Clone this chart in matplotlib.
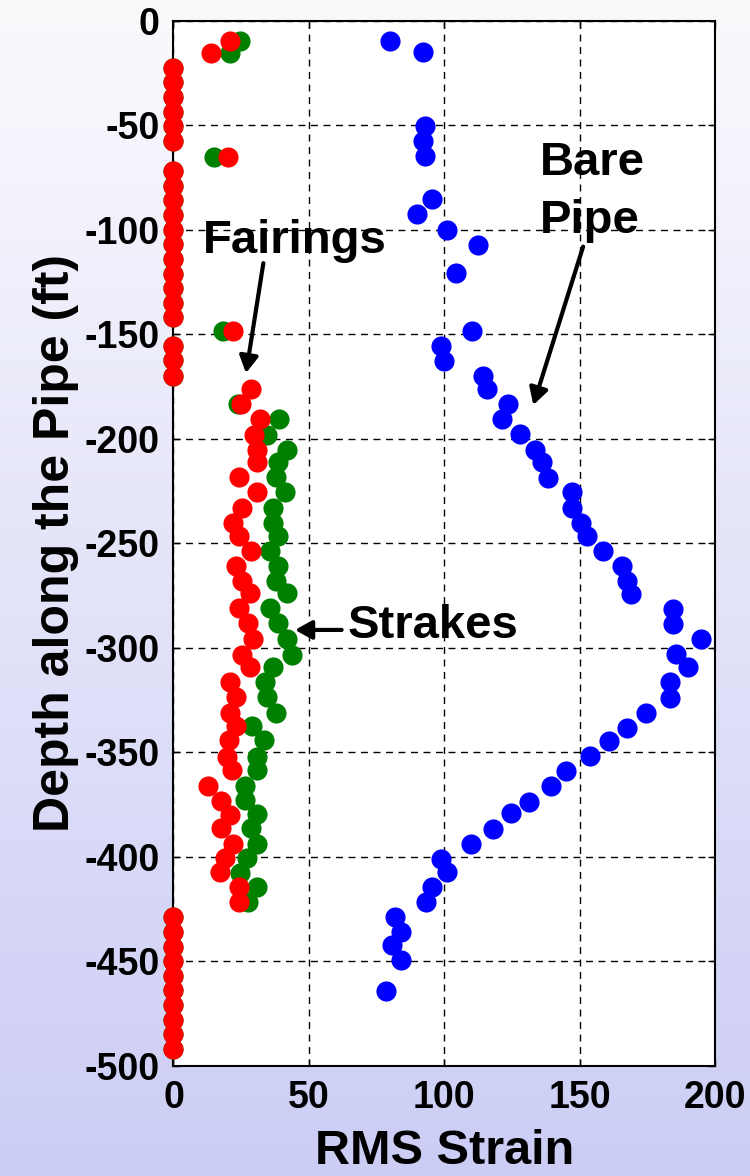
import numpy as np
import matplotlib.pyplot as plt

plt.rcParams['font.family'] = ['Liberation Sans', 'DejaVu Sans']
plt.rcParams['font.weight'] = 'bold'
plt.rcParams['axes.unicode_minus'] = False

# Bare pipe (blue)
bare_x = [80, 92, 93, 92, 93, 95.4, 89.8, 101, 112.3, 104.3, 110.1, 98.8, 99.9, 114.4, 115.7,
          123.7, 121.3, 128.1, 133.6, 136, 138.3, 147.3, 147.3, 150.6, 152.8, 158.5, 165.5, 167.6,
          168.9, 184.5, 184.5, 194.8, 185.6, 190.1, 183.4, 183.4, 174.4, 167.6, 160.7, 153.9, 145,
          139.4, 131.4, 124.7, 117.9, 110, 98.7, 100.9, 95.4, 93.1, 81.8, 84, 80.6, 84, 78.4]
bare_d = [-9.6, -15.1, -50.2, -57.6, -64.7, -85.5, -92.6, -100.1, -107.3, -120.6, -148.3, -155.6,
          -162.8, -170, -176, -183.4, -190.7, -197.9, -205.4, -211, -218.8, -225.6, -233, -240.2,
          -246.4, -253.6, -260.8, -268.1, -274.3, -281.5, -288.8, -296, -303, -309.1, -316.6, -323.9,
          -331.1, -338.6, -344.5, -351.7, -359, -366.2, -373.7, -379.2, -386.7, -394.1, -401.1,
          -407.5, -414.4, -421.8, -428.7, -436.2, -442.2, -449.4, -464.1]

# zero-strain depths shared by fairings and strakes
zero_d = [-22.5, -29.5, -36.5, -43.5, -50.5, -57.5, -72, -79, -86, -93, -100, -107, -114, -121,
          -128, -135, -142, -155.5, -162.5, -170, -429, -436, -443, -450, -457, -464, -471, -478,
          -485, -492]

# Strakes (green)
strk_x = [24.6, 20.9, 15, 18.4, 23.8, 39.1, 34.4, 42, 38.7, 37.9, 41.2, 36.6, 36.6, 38.7, 35.6,
          38.7, 37.7, 41.8, 35.6, 38.7, 42, 43.7, 36.6, 33.8, 34.6, 37.9, 28.9, 33.5, 31, 31, 26.4,
          26.4, 30.7, 28.6, 31, 27, 24.6, 30.7, 27.6]
strk_d = [-9.5, -15.5, -65, -148.5, -183.5, -190.7, -198, -205.3, -211, -218.3, -225.6, -233,
          -240.2, -246.5, -253.6, -261, -268, -274, -281.2, -288.3, -296, -303.3, -309.3, -316.3,
          -323.5, -331.1, -337.5, -344.2, -352.2, -358.5, -366.4, -372.9, -379.5, -386.4, -394,
          -400.8, -407.8, -414.4, -421.5]

# Fairings (red)
fair_x = [21, 14, 20, 22, 28.5, 24.8, 31.9, 29.8, 31, 31, 24.2, 31, 25.2, 21.9, 24.3, 28.6, 23.2,
          25.3, 28.3, 24.3, 27.6, 29.5, 25.2, 28.3, 20.9, 23.1, 20.9, 23.1, 20.6, 19.6, 21.5, 12.9,
          17.4, 20.9, 17.4, 21.9, 19, 17.2, 24.3, 24.3]
fair_d = [-9.5, -15.5, -65, -148.5, -176, -183.5, -190.7, -198, -205.3, -211, -218.3, -225.6,
          -233, -240.2, -246.5, -253.6, -261, -268, -274, -281.2, -288.3, -296, -303.5, -309.4,
          -316.3, -323.7, -331.1, -337.5, -344.2, -352.2, -358.5, -366.2, -373.2, -380, -386.4,
          -394, -400.5, -407.3, -414.4, -421.5]

fig = plt.figure(figsize=(7.5, 11.76), dpi=100)

# gradient background
bg = fig.add_axes([0, 0, 1, 1], zorder=-10)
top = np.array([250, 250, 253]) / 255
bot = np.array([204, 205, 245]) / 255
t = np.linspace(0, 1, 256)[:, None]
grad = (top * (1 - t) + bot * t)[:, None, :]
bg.imshow(grad, aspect='auto', extent=[0, 1, 0, 1])
bg.axis('off')

ax = fig.add_axes([0.2313, 0.0938, 0.7220, 0.8886])
ax.set_facecolor('white')

ms = 14.5
ax.plot(bare_x, bare_d, 'o', color='#0000ff', ms=ms, mew=0, zorder=3, clip_on=False)
ax.plot(strk_x + [0] * len(zero_d), strk_d + zero_d, 'o', color='#008000', ms=ms, mew=0,
        zorder=4, clip_on=False)
ax.plot(fair_x + [0] * len(zero_d), fair_d + zero_d, 'o', color='#ff0000', ms=ms, mew=0,
        zorder=5, clip_on=False)

ax.set_xlim(0, 200)
ax.set_ylim(-500, 0)
ax.set_xticks([0, 50, 100, 150, 200])
ax.set_yticks(np.arange(-500, 1, 50))
ax.grid(True, color='black', linestyle=(0, (5, 4)), lw=1)
ax.tick_params(direction='in', length=5, width=1, labelsize=27, pad=10,
               top=True, right=True)
for lab in ax.get_xticklabels() + ax.get_yticklabels():
    lab.set_fontweight('bold')
for s in ax.spines.values():
    s.set_linewidth(1.5)

ax.set_xlabel('RMS Strain', fontsize=35, fontweight='bold', labelpad=10)
ax.set_ylabel('Depth along the Pipe (ft)', fontsize=36, fontweight='bold', labelpad=4)

arrow = dict(arrowstyle='-|>,head_length=0.5,head_width=0.28', lw=3, color='black',
             mutation_scale=20, shrinkA=0, shrinkB=0)
ax.text(10.9, -111.1, 'Fairings', fontsize=34, fontweight='bold', ha='left', va='baseline')
ax.annotate('', xy=(26.8, -168.6), xytext=(33.2, -116), arrowprops=arrow)
ax.text(64.5, -295.5, 'Strakes', fontsize=34, fontweight='bold', ha='left', va='baseline')
ax.annotate('', xy=(44.9, -291.5), xytext=(62.1, -291.5), arrowprops=arrow)
ax.text(135.4, -73.8, 'Bare', fontsize=34, fontweight='bold', ha='left', va='baseline')
ax.text(135.4, -101.6, 'Pipe', fontsize=34, fontweight='bold', ha='left', va='baseline')
ax.annotate('', xy=(132.9, -183.9), xytext=(151.3, -108.1), arrowprops=arrow)

fig.savefig('out.png', dpi=100)
